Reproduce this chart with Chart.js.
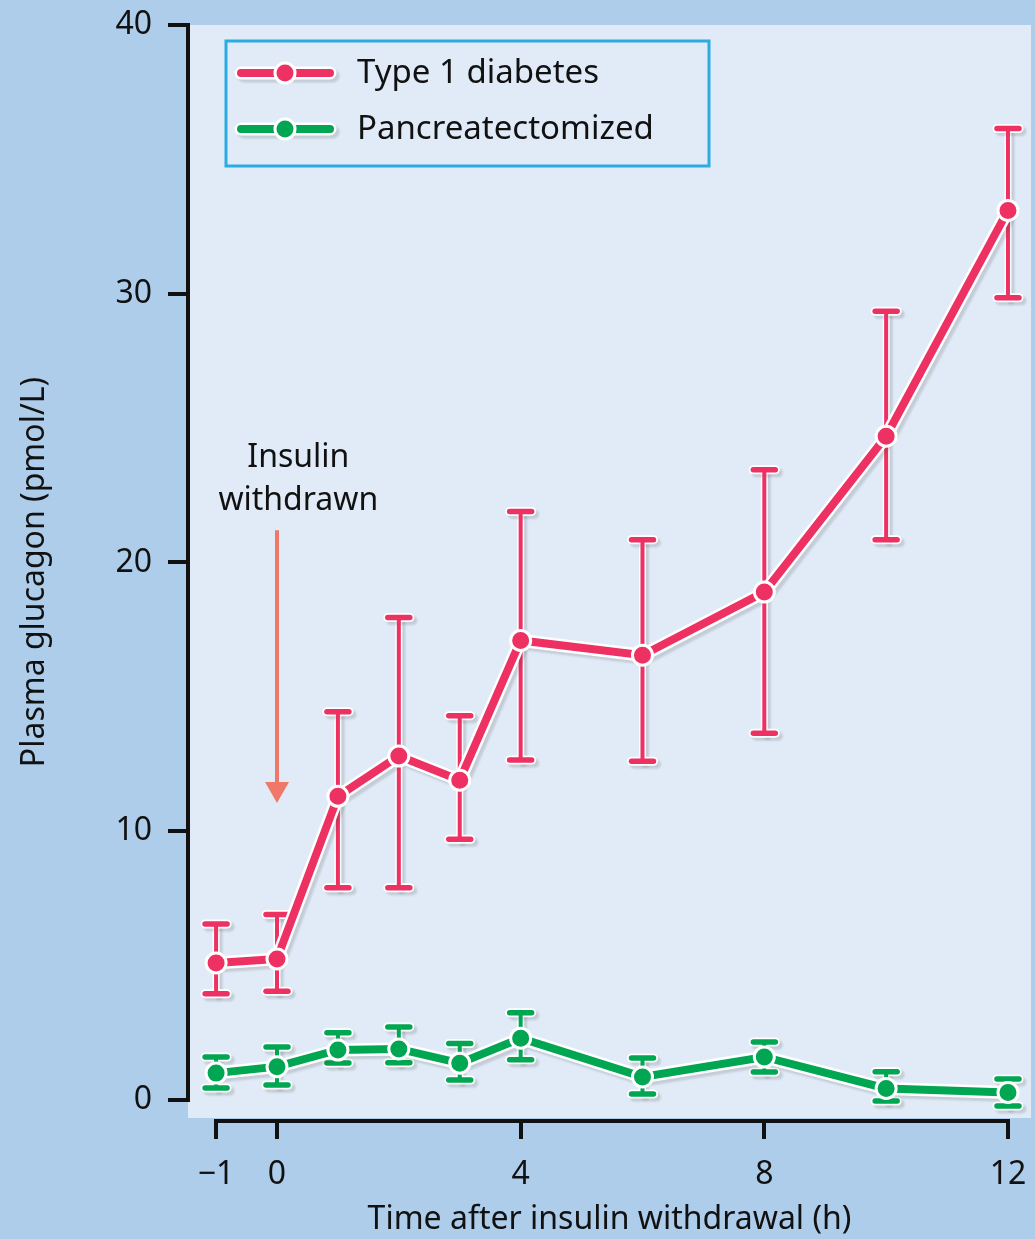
<!DOCTYPE html>
<html><head><meta charset="utf-8">
<script src="https://cdn.jsdelivr.net/npm/chart.js@4"></script>
<style>html,body{margin:0;padding:0;background:#aecdeb;} canvas{display:block}</style>
</head><body>
<canvas id="c" width="1035" height="1239"></canvas>
<script>
// ---- data ----
const timePoints   = [-1, 0, 1, 2, 3, 4, 6, 8, 10, 12];
const type1Mean    = [5.1, 5.25, 11.3, 12.8, 11.9, 17.1, 16.55, 18.9, 24.7, 33.1];
const type1Upper   = [6.55, 6.9, 14.45, 17.95, 14.3, 21.9, 20.85, 23.45, 29.35, 36.15];
const type1Lower   = [3.95, 4.05, 7.9, 7.9, 9.7, 12.65, 12.6, 13.65, 20.85, 29.85];
const pancMean     = [1.0, 1.24, 1.86, 1.9, 1.37, 2.3, 0.86, 1.6, 0.43, 0.28];
const pancUpper    = [1.6, 1.97, 2.5, 2.72, 2.1, 3.25, 1.56, 2.16, 1.05, 0.78];
const pancLower    = [0.45, 0.56, 1.38, 1.39, 0.74, 1.5, 0.22, 1.04, -0.04, -0.22];
const xTickValues  = [-1, 0, 4, 8, 12];
const yTickValues  = [0, 10, 20, 30, 40];
const seriesNames  = ['Type 1 diabetes', 'Pancreatectomized'];
const xTitle       = 'Time after insulin withdrawal (h)';
const yTitle       = 'Plasma glucagon (pmol/L)';
const noteLines    = ['Insulin', 'withdrawn'];
const noteX = 0.35, noteY = [23.9, 22.3];
const arrowX = 0, arrowFrom = 21.2, arrowTo = 11.05;

// ---- styles ----
const PINK = '#ee3163', GREEN = '#00a651', ARROW = '#f07868';
const OUTER = '#aecdeb', PANEL = '#e0ebf7', LEGEND_BORDER = '#2aabe2';
const FONT = "'Noto Sans', 'Open Sans', sans-serif";
const SHADOW = 'rgba(70,70,70,0.18)';

const pts = (xs, ys) => xs.map((x, i) => ({x, y: ys[i]}));

function setShadow(ctx) {
  ctx.shadowColor = SHADOW; ctx.shadowOffsetX = 3; ctx.shadowOffsetY = 3; ctx.shadowBlur = 2;
}

const backgroundPlugin = {
  id: 'bg',
  beforeDraw(chart) {
    const {ctx, chartArea: a} = chart;
    ctx.save();
    ctx.fillStyle = OUTER;
    ctx.fillRect(0, 0, chart.width, chart.height);
    ctx.fillStyle = PANEL;
    ctx.fillRect(a.left, a.top, a.right - a.left, a.bottom - 1 - a.top);
    ctx.restore();
  }
};

const axesPlugin = {
  id: 'axesLines',
  afterDraw(chart) {
    const {ctx, chartArea: a, scales: {x, y}} = chart;
    ctx.save();
    ctx.strokeStyle = '#111'; ctx.lineWidth = 4; ctx.lineCap = 'butt';
    ctx.beginPath();
    ctx.moveTo(a.left, y.getPixelForValue(yTickValues[0]) + 2);
    ctx.lineTo(a.left, y.getPixelForValue(yTickValues[yTickValues.length - 1]) - 2);
    ctx.stroke();
    ctx.beginPath();
    const yy = a.bottom + 2;
    ctx.moveTo(x.getPixelForValue(xTickValues[0]) - 2, yy);
    ctx.lineTo(x.getPixelForValue(xTickValues[xTickValues.length - 1]) + 2, yy);
    ctx.stroke();
    ctx.restore();
  }
};

function drawErrorBars(ctx, x, y, ups, lows, color) {
  const cap = 11;
  const segs = timePoints.map((t, i) => [x.getPixelForValue(t), y.getPixelForValue(ups[i]), y.getPixelForValue(lows[i])]);
  ctx.save();
  ctx.lineCap = 'round';
  setShadow(ctx);
  ctx.strokeStyle = '#ffffff';
  segs.forEach(([px, pu, pl]) => {
    ctx.lineWidth = 7;
    ctx.beginPath(); ctx.moveTo(px, pu); ctx.lineTo(px, pl); ctx.stroke();
    ctx.lineWidth = 9;
    ctx.beginPath(); ctx.moveTo(px - cap, pu); ctx.lineTo(px + cap, pu); ctx.stroke();
    ctx.beginPath(); ctx.moveTo(px - cap, pl); ctx.lineTo(px + cap, pl); ctx.stroke();
  });
  ctx.restore();
  ctx.save();
  ctx.strokeStyle = color;
  segs.forEach(([px, pu, pl]) => {
    ctx.lineCap = 'butt';
    ctx.lineWidth = 4;
    ctx.beginPath(); ctx.moveTo(px, pu); ctx.lineTo(px, pl); ctx.stroke();
    ctx.lineCap = 'round';
    ctx.lineWidth = 5.5;
    ctx.beginPath(); ctx.moveTo(px - cap, pu); ctx.lineTo(px + cap, pu); ctx.stroke();
    ctx.beginPath(); ctx.moveTo(px - cap, pl); ctx.lineTo(px + cap, pl); ctx.stroke();
  });
  ctx.restore();
}

const errorBarPlugin = {
  id: 'errorBars',
  beforeDatasetsDraw(chart) {
    const {ctx, scales: {x, y}} = chart;
    ctx.save();
    const ax = x.getPixelForValue(arrowX);
    const a0 = y.getPixelForValue(arrowFrom);
    const a1 = y.getPixelForValue(arrowTo);
    ctx.strokeStyle = ARROW; ctx.fillStyle = ARROW; ctx.lineWidth = 4;
    ctx.beginPath(); ctx.moveTo(ax, a0); ctx.lineTo(ax, a1 - 18); ctx.stroke();
    ctx.beginPath(); ctx.moveTo(ax - 12, a1 - 21); ctx.lineTo(ax + 12, a1 - 21); ctx.lineTo(ax, a1); ctx.closePath(); ctx.fill();
    ctx.fillStyle = '#111';
    ctx.font = '32px ' + FONT;
    ctx.textAlign = 'center'; ctx.textBaseline = 'middle';
    noteLines.forEach((s, i) => ctx.fillText(s, x.getPixelForValue(noteX), y.getPixelForValue(noteY[i])));
    ctx.restore();
    drawErrorBars(ctx, x, y, pancUpper, pancLower, GREEN);
    drawErrorBars(ctx, x, y, type1Upper, type1Lower, PINK);
  },
  beforeDatasetDraw(chart, args) {
    const ds = chart.data.datasets[args.index];
    if (ds.casing) { chart.ctx.save(); setShadow(chart.ctx); }
  },
  afterDatasetDraw(chart, args) {
    const ds = chart.data.datasets[args.index];
    if (ds.casing) chart.ctx.restore();
  }
};

const legendPlugin = {
  id: 'customLegend',
  afterDraw(chart) {
    const {ctx} = chart;
    ctx.save();
    ctx.strokeStyle = LEGEND_BORDER; ctx.lineWidth = 3;
    ctx.strokeRect(226, 41, 483, 125);
    const rows = [[seriesNames[0], PINK, 73], [seriesNames[1], GREEN, 129]];
    rows.forEach(([label, color, yy]) => {
      ctx.save();
      setShadow(ctx);
      ctx.strokeStyle = '#fff'; ctx.lineWidth = 13; ctx.lineCap = 'round';
      ctx.beginPath(); ctx.moveTo(241, yy); ctx.lineTo(330, yy); ctx.stroke();
      ctx.restore();
      ctx.strokeStyle = color; ctx.lineWidth = 8; ctx.lineCap = 'round';
      ctx.beginPath(); ctx.moveTo(241, yy); ctx.lineTo(330, yy); ctx.stroke();
      ctx.beginPath(); ctx.arc(285, yy, 11.5, 0, Math.PI * 2); ctx.fillStyle = '#fff'; ctx.fill();
      ctx.beginPath(); ctx.arc(285, yy, 8.5, 0, Math.PI * 2); ctx.fillStyle = color; ctx.fill();
      ctx.fillStyle = '#111'; ctx.font = '33px ' + FONT;
      ctx.textAlign = 'left'; ctx.textBaseline = 'middle';
      ctx.fillText(label, 357, yy + 1);
    });
    ctx.restore();
  }
};

const lineDs = (name, means, color, order) => ({
  label: name, data: pts(timePoints, means), borderColor: color, borderWidth: 8,
  pointRadius: 10, pointBorderWidth: 3, pointBorderColor: '#fff', pointBackgroundColor: color,
  pointHoverRadius: 10, tension: 0, order, fill: false
});
const casingDs = (means, order) => ({
  label: '', casing: true, data: pts(timePoints, means), borderColor: '#fff', borderWidth: 13,
  pointRadius: 0, pointHoverRadius: 0, tension: 0, order, fill: false
});

new Chart(document.getElementById('c'), {
  type: 'line',
  data: {
    datasets: [
      lineDs(seriesNames[0], type1Mean, PINK, 1),
      casingDs(type1Mean, 2),
      lineDs(seriesNames[1], pancMean, GREEN, 3),
      casingDs(pancMean, 4)
    ]
  },
  options: {
    responsive: false, animation: false, devicePixelRatio: 1,
    layout: {autoPadding: false, padding: {top: 25, right: 4, left: 0, bottom: 0}},
    plugins: {legend: {display: false}, tooltip: {enabled: false}},
    scales: {
      x: {
        type: 'linear', min: -1.461, max: 12.378,
        afterBuildTicks: s => { s.ticks = xTickValues.map(v => ({value: v})); },
        afterFit: s => { s.height = 120; s.paddingLeft = 0; s.paddingRight = 0; },
        grid: {display: true, drawOnChartArea: false, drawTicks: true, tickLength: 20, color: '#111', lineWidth: 4},
        border: {display: false},
        ticks: {color: '#111', font: {family: FONT, size: 32}, padding: 17, maxRotation: 0,
          callback: v => (v < 0 ? '\u2212' + Math.abs(v) : String(v))},
        title: {display: true, text: xTitle, color: '#111', font: {family: FONT, size: 32}, padding: {top: 0, bottom: 0}}
      },
      y: {
        type: 'linear', min: -0.707, max: 40,
        afterBuildTicks: s => { s.ticks = yTickValues.map(v => ({value: v})); },
        afterFit: s => { s.width = 188; s.paddingTop = 0; s.paddingBottom = 0; },
        grid: {display: true, drawOnChartArea: false, drawTicks: true, tickLength: 20, color: '#111', lineWidth: 4},
        border: {display: false},
        ticks: {color: '#111', font: {family: FONT, size: 32}, padding: 16, callback: v => String(v)},
        title: {display: true, text: yTitle, color: '#111', font: {family: FONT, size: 32}, padding: {top: 16, bottom: 0}}
      }
    }
  },
  plugins: [backgroundPlugin, errorBarPlugin, axesPlugin, legendPlugin]
});
</script>
</body></html>
